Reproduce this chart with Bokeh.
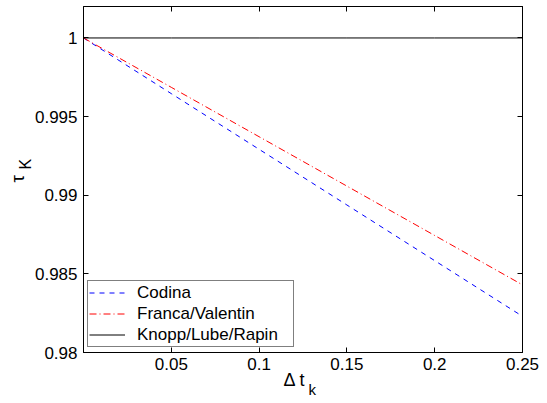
from bokeh.plotting import figure
from bokeh.models import (Range1d, FixedTicker, LinearAxis, Legend, LegendItem,
                          Title, CustomJSTickFormatter)
from bokeh.embed import file_html
from bokeh.resources import INLINE

# Data
dt = [0.0, 0.05, 0.10, 0.15, 0.20, 0.25]
codina = [1.0, 0.99646, 0.99292, 0.98938, 0.98584, 0.9823]
franca = [1.0, 0.99686, 0.99372, 0.99058, 0.98744, 0.9843]
knopp = [1.0, 1.0, 1.0, 1.0, 1.0, 1.0]

x_ticks = [0.05, 0.1, 0.15, 0.2, 0.25]
y_ticks = [0.98, 0.985, 0.99, 0.995, 1.0]

FONT = "Liberation Sans"

p = figure(width=547, height=403, output_backend="svg", toolbar_location=None,
           x_range=Range1d(0, 0.25), y_range=Range1d(0.98, 1.002),
           x_axis_location=None, y_axis_location=None,
           min_border_left=83, min_border_right=25, min_border_top=6, min_border_bottom=51)
p.xgrid.visible = False
p.ygrid.visible = False
p.outline_line_color = "black"
p.outline_line_width = 1
p.background_fill_color = "white"
p.border_fill_color = "white"

fmt = CustomJSTickFormatter(code="return (Math.round(tick*1000)/1000).toString();")
blank = CustomJSTickFormatter(code="return '';")

def style(ax, ticks, show_labels):
    ax.ticker = FixedTicker(ticks=ticks)
    ax.formatter = fmt if show_labels else blank
    ax.major_tick_in = 5
    ax.major_tick_out = 0
    ax.minor_tick_in = 0
    ax.minor_tick_out = 0
    ax.axis_line_color = "black"
    ax.major_tick_line_color = "black"
    ax.major_label_text_font = FONT
    ax.major_label_text_font_size = "17px" if show_labels else "1px"
    ax.major_label_text_color = "black"
    ax.major_label_standoff = 6 if show_labels else 0

xb = LinearAxis(); style(xb, x_ticks, True); xb.major_label_standoff = 5
yl = LinearAxis(); style(yl, y_ticks, True)
xt = LinearAxis(); style(xt, x_ticks, False)
yr = LinearAxis(); style(yr, y_ticks, False)
p.add_layout(xb, "below")
p.add_layout(yl, "left")
p.add_layout(xt, "above")
p.add_layout(yr, "right")

r1 = p.line(dt, codina, line_color="#0000ff", line_width=1, line_dash="5 5")
r2 = p.line(dt, franca, line_color="#ff0000", line_width=1, line_dash="7 3 1 3")
r3 = p.line(dt, knopp, line_color="black", line_width=1)

legend = Legend(items=[LegendItem(label="Codina", renderers=[r1]),
                       LegendItem(label="Franca/Valentin", renderers=[r2]),
                       LegendItem(label="Knopp/Lube/Rapin", renderers=[r3])],
                location=(4, 5))
legend.label_text_font = FONT
legend.label_text_font_size = "17px"
legend.label_text_color = "black"
legend.border_line_color = "black"
legend.border_line_width = 1
legend.background_fill_color = "white"
legend.background_fill_alpha = 1
legend.padding = 1
legend.spacing = 0
legend.margin = 0
legend.glyph_width = 36
legend.glyph_height = 21
legend.label_height = 21
legend.label_width = 155
legend.label_standoff = 12
p.add_layout(legend, "center")

# Axis labels (main text + subscript) as titles in the side panels
def side_title(text, size, offset, valign, standoff):
    return Title(text=text, align="left", offset=offset, vertical_align=valign,
                 standoff=standoff, text_font=FONT, text_font_size=size,
                 text_font_style="normal", text_color="black")

p.add_layout(side_title("K", "16px", 183, "bottom", -4), "left")
p.add_layout(side_title("τ", "19px", 170, "bottom", -22), "left")
p.add_layout(side_title("Δ t", "18px", 200, "top", -5), "below")
p.add_layout(side_title("k", "15px", 225, "top", -18), "below")

open("out.html", "w").write(file_html(p, INLINE))
